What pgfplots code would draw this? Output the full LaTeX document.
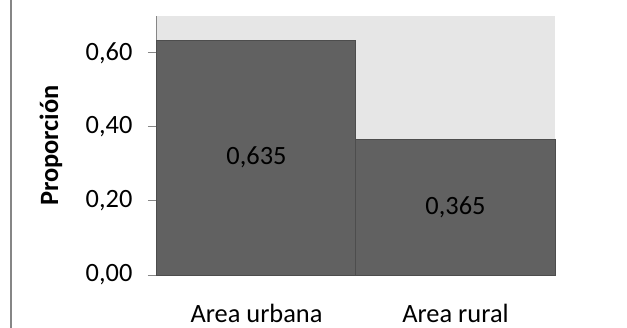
\documentclass[border=0pt]{standalone}
\usepackage{pgfplots}
\pgfplotsset{compat=1.18}
\usepackage{fontspec}
\setmainfont{Carlito}
\definecolor{barfill}{HTML}{616161}
\definecolor{baredge}{HTML}{4D4D4D}
\definecolor{plotbg}{HTML}{E6E6E6}
\definecolor{axisgray}{HTML}{868686}
\begin{document}
\begin{tikzpicture}
\useasboundingbox (-157bp,-53bp) rectangle (470bp,275bp);
\draw[axisgray, line width=2.5bp] (-146bp,-53bp) -- (-146bp,275bp);
\begin{axis}[
  at={(0,0)}, anchor=south west,
  scale only axis, width=398bp, height=259bp,
  xmin=-0.5, xmax=1.5, ymin=0, ymax=0.7,
  axis background/.style={fill=plotbg},
  axis x line*=bottom, axis y line*=left,
  axis line style={axisgray, line width=1bp, -},
  xtick={0,1}, xticklabels={Area urbana, Area rural},
  x tick style={draw=none},
  ytick={0,0.2,0.4,0.6},
  y tick style={axisgray, line width=1bp},
  tick align=outside, major tick length=9bp,
  /pgf/number format/use comma,
  /pgf/number format/fixed,
  /pgf/number format/fixed zerofill,
  /pgf/number format/precision=2,
  /pgf/number format/assume math mode=true,
  font=\fontsize{26.5}{31}\selectfont,
  yticklabel style={xshift=-12bp},
  xticklabel style={inner sep=0pt, text depth=0pt, yshift=-20bp},
  ylabel={\bfseries Proporción},
  ylabel style={at={(rel axis cs:0,0.5)}, anchor=center, yshift=106bp},
  clip=false,
]
\addplot[ybar, bar width=1, bar shift=0, fill=barfill, draw=baredge, line width=1bp]
  coordinates {(0,0.635) (1,0.365)};
\addplot[only marks, mark=none, nodes near coords, point meta=explicit symbolic,
  every node near coord/.append style={anchor=center, text=black, font=\fontsize{26.5}{31}\selectfont}]
  coordinates {(0,0.3175) [0,635] (1,0.1825) [0,365]};
\end{axis}
\end{tikzpicture}
\end{document}
